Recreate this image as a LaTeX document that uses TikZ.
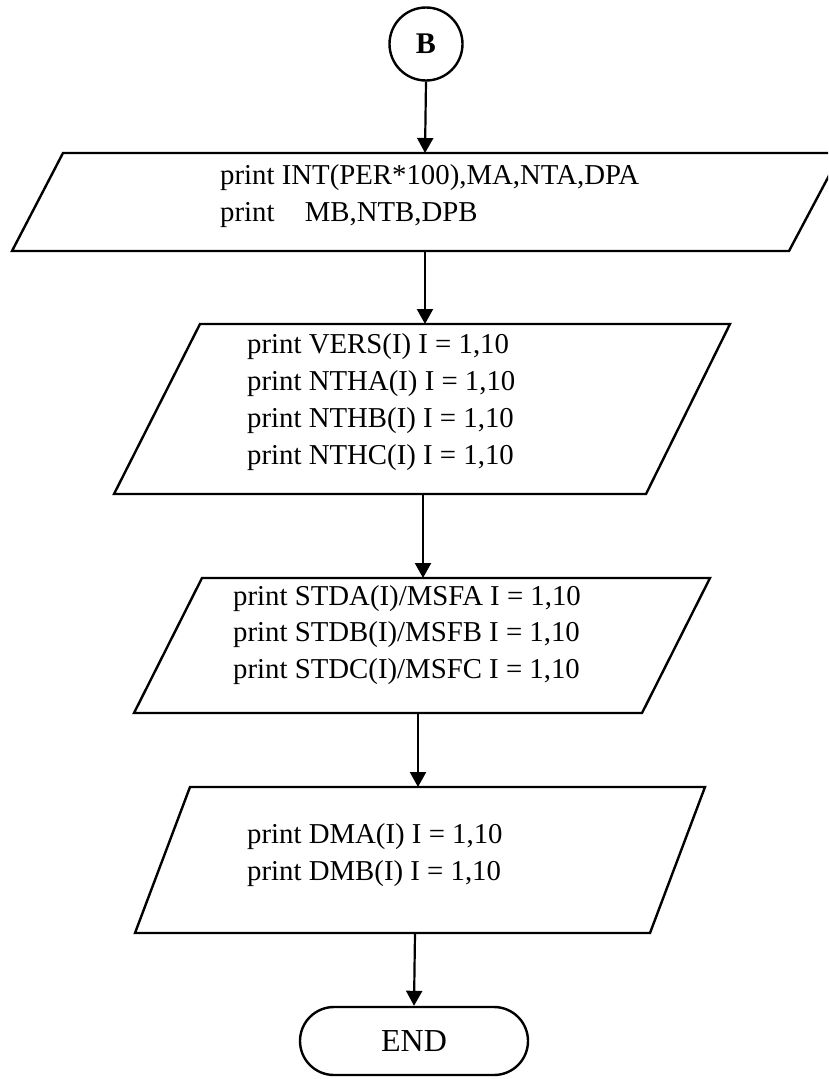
\documentclass[tikz,border=0pt]{standalone}
\usepackage{fontspec}
\setmainfont{Liberation Serif}
\usetikzlibrary{arrows.meta,shapes.misc}
\begin{document}
\begin{tikzpicture}[x=1pt,y=-1pt,
  shapeline/.style={draw=black,line width=2.4pt,line join=miter},
  flow/.style={draw=black,line width=2.2pt,-{Triangle[length=15pt,width=16pt]}},
  txt/.style={inner sep=0pt,anchor=west,align=left,font=\fontsize{28.8}{36.8}\selectfont},
  term/.style={draw=black,line width=2.4pt,inner sep=0pt}]
\useasboundingbox (0,0) rectangle (828,1079);
\clip (0,0) rectangle (828,1079);
% start connector
\node[term,circle,minimum size=73pt,font=\fontsize{30}{36}\selectfont\bfseries] (B) at (426,44) {B};
% output 1
\draw[shapeline] (63,153) -- (841,153) -- (789,251) -- (12,251) -- cycle;
\coordinate (p1top) at (425,153);
\coordinate (p1bot) at (425,251);
\node[txt] (t1) at (220,196) {print INT(PER*100),MA,NTA,DPA\\print\hspace{0.8em} MB,NTB,DPB};
% output 2
\draw[shapeline] (200,324) -- (730,324) -- (646,494) -- (114,494) -- cycle;
\coordinate (p2top) at (425,324);
\coordinate (p2bot) at (423,494);
\node[txt] (t2) at (247,402) {print VERS(I) I = 1,10\\print NTHA(I) I = 1,10\\print NTHB(I) I = 1,10\\print NTHC(I) I = 1,10};
% output 3
\draw[shapeline] (202,578) -- (710,578) -- (642,713) -- (134,713) -- cycle;
\coordinate (p3top) at (423,578);
\coordinate (p3bot) at (418,713);
\node[txt] (t3) at (233,635) {print STDA(I)/MSFA I = 1,10\\print STDB(I)/MSFB I = 1,10\\print STDC(I)/MSFC I = 1,10};
% output 4
\draw[shapeline] (190,787) -- (705,787) -- (650,933) -- (135,933) -- cycle;
\coordinate (p4top) at (418,787);
\coordinate (p4bot) at (415,933);
\node[txt] (t4) at (247,855) {print DMA(I) I = 1,10\\print DMB(I) I = 1,10};
% terminal
\node[term,rounded rectangle,minimum width=228pt,minimum height=68pt,font=\fontsize{32}{38}\selectfont] (E) at (414,1041) {END};
% connectors
\draw[flow] (B.south) -- (p1top);
\draw[flow] (p1bot) -- (p2top);
\draw[flow] (p2bot) -- (p3top);
\draw[flow] (p3bot) -- (p4top);
\draw[flow] (p4bot) -- (E.north);
\end{tikzpicture}
\end{document}
